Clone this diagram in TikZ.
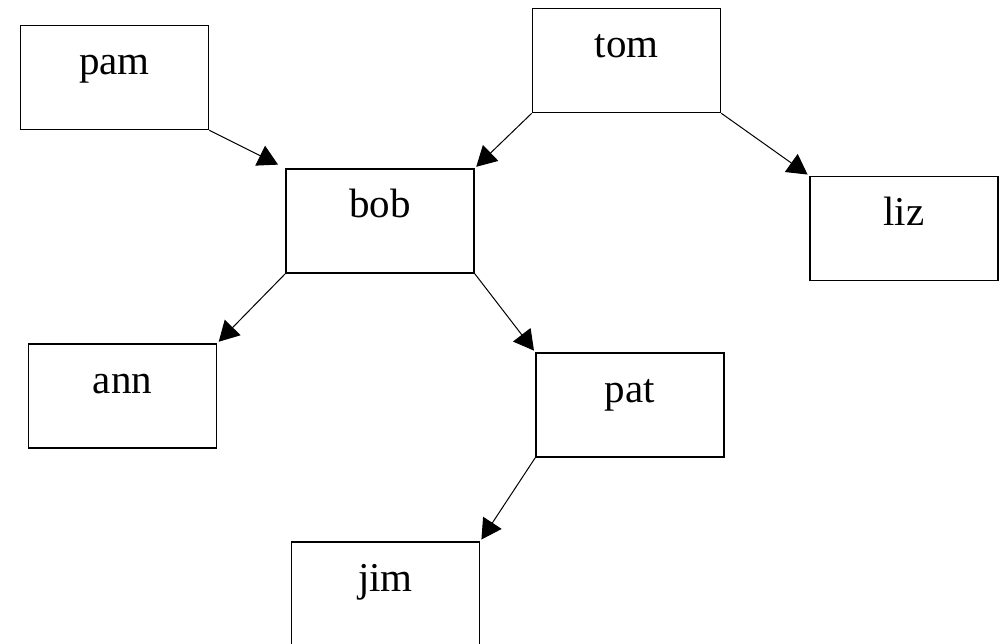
\documentclass[tikz,border=0pt]{standalone}
\usepackage{fontspec}
\setmainfont{Liberation Serif}
\usetikzlibrary{arrows.meta}

\begin{document}
\begin{tikzpicture}[x=1pt, y=-1pt,
	person/.style={draw, line width=1.6pt, minimum width=188pt, minimum height=104pt,
		inner sep=0pt, text height=28pt, text depth=34pt, font=\fontsize{41}{49}\selectfont},
	parent/.style={line width=1pt, -{Triangle[length=20pt, width=22pt]}, shorten >=2pt}]
\useasboundingbox (0,0) rectangle (1003,644);
\node[person] (pam) at (114.5,77.5) {pam};
\node[person] (tom) at (626.5,60.5) {tom};
\node[person] (bob) at (380,221) {bob};
\node[person] (liz) at (904,228.5) {liz};
\node[person] (ann) at (122.5,396) {ann};
\node[person] (pat) at (630,405) {pat};
\node[person] (jim) at (385.5,594) {jim};
\draw[parent, shorten >=8pt] (pam.south east) -- (bob.north west);
\draw[parent] (tom.south west) -- (bob.north east);
\draw[parent] (tom.south east) -- (liz.north west);
\draw[parent] (bob.south west) -- (ann.north east);
\draw[parent] (bob.south east) -- (pat.north west);
\draw[parent] (pat.south west) -- (jim.north east);
\end{tikzpicture}
\end{document}
